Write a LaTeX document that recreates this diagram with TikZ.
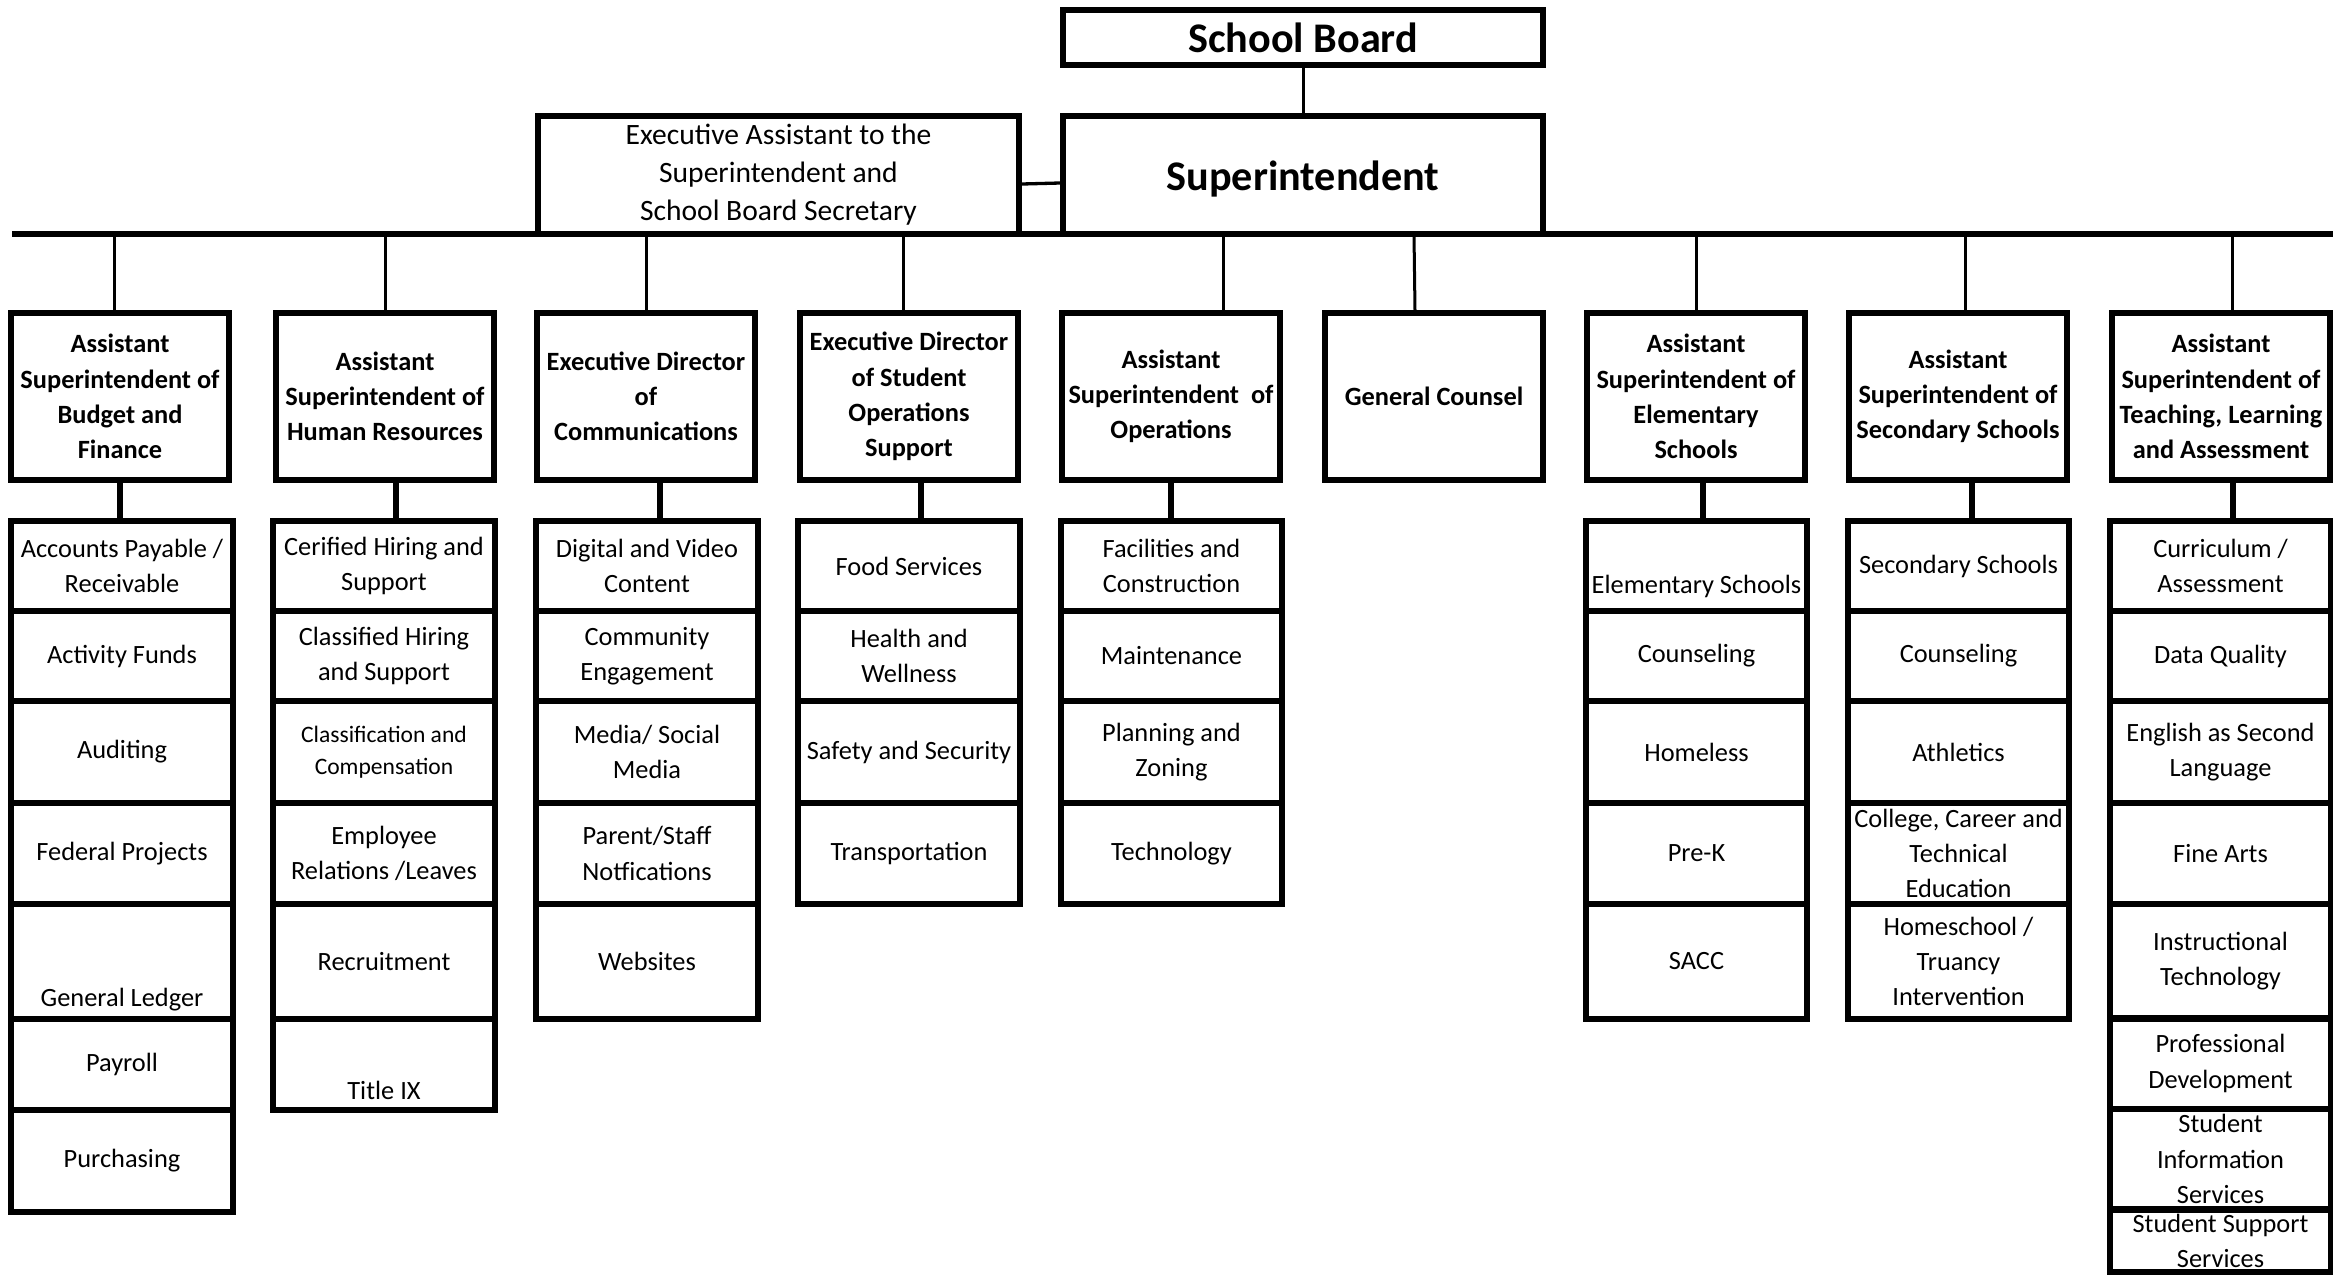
\documentclass[tikz,border=0pt]{standalone}
\usepackage{fontspec}
\setmainfont{Carlito}
\newcommand{\lowered}[2]{\raisebox{-#1}[\height][\depth]{#2}}
\tikzset{
	box/.style={draw,line width=0.06cm,align=center,inner sep=0pt},
	topbox/.style={box,minimum width=4.8cm,font=\fontsize{12}{14}\selectfont\bfseries},
	headbox/.style={box,minimum width=2.17cm,minimum height=1.67cm,font=\fontsize{7.5}{10}\selectfont\bfseries},
	subbox/.style={box,minimum width=2.21cm,font=\fontsize{7.5}{10}\selectfont},
	rowa/.style={minimum height=0.90cm},
	rowb/.style={minimum height=0.90cm},
	rowc/.style={minimum height=1.02cm},
	rowd/.style={minimum height=1.01cm},
	rowe/.style={minimum height=1.15cm},
	rowf/.style={minimum height=0.91cm},
	rowg/.style={minimum height=1.00cm},
	rowh/.style={minimum height=0.61cm},
	link/.style={line width=0.03cm},
	drop/.style={line width=0.053cm}
}
\begin{document}
\begin{tikzpicture}[x=0.01cm,y=-0.01cm]
		\useasboundingbox (0,0) rectangle (2333,1276);
		\node[topbox,minimum height=0.55cm] (board) at (1303,37.5) {School Board};
		\node[topbox,minimum height=1.18cm] (supt) at (1303,175) {\lowered{0.04cm}{Superintendent}};
		\node[box,minimum width=4.81cm,minimum height=1.18cm,font=\fontsize{8.4}{10.8}\selectfont] (exec) at (778.5,175) {Executive Assistant to the\\Superintendent and\\School Board Secretary};
		\coordinate (busl) at (12,234);
		\coordinate (busr) at (2336,234);
		\draw[line width=0.06cm] (busl) -- (busr);
		\draw[link] (board.south) -- (supt.north);
		\draw[line width=0.033cm] ([yshift=-0.09cm]exec.east) -- ([yshift=-0.08cm]supt.west);

		\node[headbox] (budget) at (120,396.5) {Assistant\\Superintendent of\\Budget and\\Finance};
		\node[headbox] (hr) at (385,396.5) {Assistant\\Superintendent of\\Human Resources};
		\node[headbox] (comm) at (646,396.5) {Executive Director\\of\\Communications};
		\node[headbox] (stuops) at (909,396.5) {Executive Director\\of Student\\Operations\\Support};
		\node[headbox] (ops) at (1171,396.5) {Assistant\\Superintendent\ \ of\\Operations};
		\node[headbox] (counsel) at (1434,396.5) {General Counsel};
		\node[headbox] (elem) at (1696,396.5) {Assistant\\Superintendent of\\Elementary\\Schools};
		\node[headbox] (sec) at (1958,396.5) {Assistant\\Superintendent of\\Secondary Schools};
		\node[headbox] (tla) at (2221,396.5) {Assistant\\Superintendent of\\Teaching, Learning\\and Assessment};

		\draw[link] ([xshift=-0.05cm]budget.north) -- ([xshift=-0.05cm]budget.north |- busl);
		\draw[link] (hr.north) -- (hr.north |- busl);
		\draw[link] (comm.north) -- (comm.north |- busl);
		\draw[link] ([xshift=-0.06cm]stuops.north) -- ([xshift=-0.06cm]stuops.north |- busl);
		\draw[link] ([xshift=0.52cm]ops.north) -- ([xshift=0.52cm]ops.north |- busl);
		\draw[link] ([xshift=-0.19cm]counsel.north) -- ([xshift=-0.2cm]counsel.north |- busl);
		\draw[link] (elem.north) -- (elem.north |- busl);
		\draw[link] ([xshift=0.07cm]sec.north) -- ([xshift=0.07cm]sec.north |- busl);
		\draw[link] ([xshift=0.11cm]tla.north) -- ([xshift=0.11cm]tla.north |- busl);

		\node[subbox,rowa] (budget1) at (122,566) {Accounts Payable /\\Receivable};
		\node[subbox,rowb] (budget2) at (122,656) {Activity Funds};
		\node[subbox,rowc] (budget3) at (122,752) {Auditing};
		\node[subbox,rowd] (budget4) at (122,853.5) {Federal Projects};
		\node[subbox,rowe] (budget5) at (122,961.5) {\lowered{0.385cm}{General Ledger}};
		\node[subbox,rowf] (budget6) at (122,1064.5) {Payroll};
		\node[subbox,minimum height=1.02cm] (budget7) at (122,1161) {Purchasing};

		\node[subbox,rowa] (hr1) at (384,566) {Cerified Hiring and\\Support};
		\node[subbox,rowb] (hr2) at (384,656) {Classified Hiring\\and Support};
		\node[subbox,rowc,font=\fontsize{6.7}{9.1}\selectfont] (hr3) at (384,752) {Classification and\\Compensation};
		\node[subbox,rowd] (hr4) at (384,853.5) {Employee\\Relations /Leaves};
		\node[subbox,rowe] (hr5) at (384,961.5) {Recruitment};
		\node[subbox,rowf] (hr6) at (384,1064.5) {\lowered{0.255cm}{Title IX}};

		\node[subbox,rowa] (comm1) at (647,566) {Digital and Video\\Content};
		\node[subbox,rowb] (comm2) at (647,656) {Community\\Engagement};
		\node[subbox,rowc] (comm3) at (647,752) {Media/ Social\\Media};
		\node[subbox,rowd] (comm4) at (647,853.5) {Parent/Staff\\Notfications};
		\node[subbox,rowe] (comm5) at (647,961.5) {Websites};

		\node[subbox,rowa] (stuops1) at (909,566) {Food Services};
		\node[subbox,rowb] (stuops2) at (909,656) {Health and\\Wellness};
		\node[subbox,rowc] (stuops3) at (909,752) {Safety and Security};
		\node[subbox,rowd] (stuops4) at (909,853.5) {Transportation};

		\node[subbox,rowa] (ops1) at (1171.5,566) {Facilities and\\Construction};
		\node[subbox,rowb] (ops2) at (1171.5,656) {Maintenance};
		\node[subbox,rowc] (ops3) at (1171.5,752) {Planning and\\Zoning};
		\node[subbox,rowd] (ops4) at (1171.5,853.5) {Technology};

		\node[subbox,rowa] (elem1) at (1696.5,566) {\lowered{0.2cm}{Elementary Schools}};
		\node[subbox,rowb] (elem2) at (1696.5,656) {Counseling};
		\node[subbox,rowc] (elem3) at (1696.5,752) {Homeless};
		\node[subbox,rowd] (elem4) at (1696.5,853.5) {Pre-K};
		\node[subbox,rowe] (elem5) at (1696.5,961.5) {SACC};

		\node[subbox,rowa] (sec1) at (1958.5,566) {Secondary Schools};
		\node[subbox,rowb] (sec2) at (1958.5,656) {Counseling};
		\node[subbox,rowc] (sec3) at (1958.5,752) {Athletics};
		\node[subbox,rowd] (sec4) at (1958.5,853.5) {College, Career and\\Technical\\Education};
		\node[subbox,rowe] (sec5) at (1958.5,961.5) {Homeschool /\\Truancy\\Intervention};

		\node[subbox,rowa] (tla1) at (2220.5,566) {Curriculum /\\Assessment};
		\node[subbox,rowb] (tla2) at (2220.5,656) {Data Quality};
		\node[subbox,rowc] (tla3) at (2220.5,752) {English as Second\\Language};
		\node[subbox,rowd] (tla4) at (2220.5,853.5) {Fine Arts};
		\node[subbox,rowe] (tla5) at (2220.5,961.5) {Instructional\\Technology};
		\node[subbox,rowf] (tla6) at (2220.5,1063.5) {Professional\\Development};
		\node[subbox,rowg] (tla7) at (2220.5,1159) {Student\\Information\\Services};
		\node[subbox,rowh] (tla8) at (2220.5,1241) {Student Support\\Services};

		\draw[drop] (budget.south) -- (budget.south |- budget1.north);
		\draw[drop] ([xshift=0.11cm]hr.south) -- ([xshift=0.11cm]hr.south |- hr1.north);
		\draw[drop] ([xshift=0.14cm]comm.south) -- ([xshift=0.14cm]comm.south |- comm1.north);
		\draw[drop] ([xshift=0.12cm]stuops.south) -- ([xshift=0.12cm]stuops.south |- stuops1.north);
		\draw[drop] (ops.south) -- (ops.south |- ops1.north);
		\draw[drop] ([xshift=0.07cm]elem.south) -- ([xshift=0.07cm]elem.south |- elem1.north);
		\draw[drop] ([xshift=0.14cm]sec.south) -- ([xshift=0.14cm]sec.south |- sec1.north);
		\draw[drop] ([xshift=0.12cm]tla.south) -- ([xshift=0.12cm]tla.south |- tla1.north);
\end{tikzpicture}
\end{document}
